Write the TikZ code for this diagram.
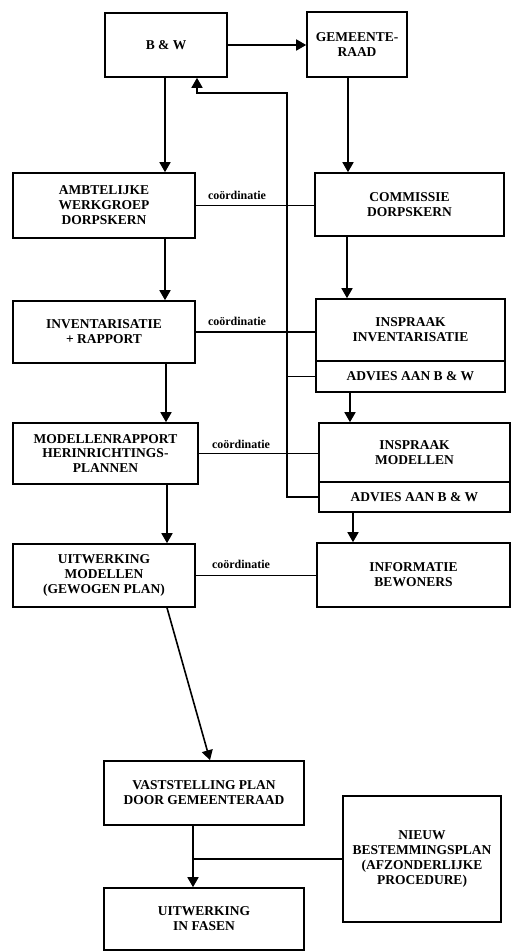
\documentclass[tikz,border=0pt]{standalone}
\usepackage{fontspec}
\setmainfont{Liberation Serif}
\usetikzlibrary{arrows.meta,calc}
\begin{document}
\begin{tikzpicture}[x=1pt,y=-1pt,
  box/.style={draw,line width=1.6pt,inner sep=0pt,align=center,font=\fontsize{13.5}{14.9}\selectfont\bfseries},
  arr/.style={line width=1.6pt,-{Triangle[length=10pt,width=11pt]}},
  ln/.style={line width=1.6pt},
  coord/.style={font=\fontsize{12}{14}\selectfont\bfseries,inner sep=0pt,anchor=south}]
\useasboundingbox[fill=white] (0,0) rectangle (511,952);

% boxes
\node[box,minimum width=122pt,minimum height=64pt] (bw) at (166,45) {B \& W};
\node[box,minimum width=100pt,minimum height=65pt] (gr) at (357,44.5) {GEMEENTE-\\RAAD};
\node[box,minimum width=182pt,minimum height=65pt] (amb) at (104,205.5) {AMBTELIJKE\\WERKGROEP\\DORPSKERN};
\node[box,minimum width=189pt,minimum height=63pt] (com) at (409.5,204.5) {COMMISSIE\\DORPSKERN};
\node[box,minimum width=182pt,minimum height=62pt] (inv) at (104,332) {INVENTARISATIE\\+ RAPPORT};
\node[box,minimum width=189pt,minimum height=62pt] (insinv) at (410.5,330) {INSPRAAK\\INVENTARISATIE};
\node[box,minimum width=189pt,minimum height=31pt] (adv1) at (410.5,376.5) {ADVIES AAN B \& W};
\node[box,minimum width=185pt,minimum height=61pt] (mod) at (105.5,453.5) {MODELLENRAPPORT\\HERINRICHTINGS-\\PLANNEN};
\node[box,minimum width=191pt,minimum height=59pt] (insmod) at (414.5,452.5) {INSPRAAK\\MODELLEN};
\node[box,minimum width=191pt,minimum height=30pt] (adv2) at (414.5,497) {ADVIES AAN B \& W};
\node[box,minimum width=182pt,minimum height=63pt] (uit) at (104,575.5) {UITWERKING\\MODELLEN\\(GEWOGEN PLAN)};
\node[box,minimum width=193pt,minimum height=64pt] (info) at (413.5,575) {INFORMATIE\\BEWONERS};
\node[box,minimum width=200pt,minimum height=64pt] (vast) at (204,793) {VASTSTELLING PLAN\\DOOR GEMEENTERAAD};
\node[box,minimum width=158pt,minimum height=126pt] (nieuw) at (422,859) {NIEUW\\BESTEMMINGSPLAN\\(AFZONDERLIJKE\\PROCEDURE)};
\node[box,minimum width=200pt,minimum height=62pt] (fasen) at (204,919) {UITWERKING\\IN FASEN};

% main flow arrows
\draw[arr] (bw.east) -- (bw.east -| gr.west);
\draw[arr] ([xshift=-1pt]bw.south) -- ([xshift=-1pt]bw.south |- amb.north);
\draw[arr] ([xshift=-9pt]gr.south) -- ([xshift=-9pt]gr.south |- com.north);
\draw[arr] ([xshift=61pt]amb.south) -- ([xshift=61pt]amb.south |- inv.north);
\draw[arr] ([xshift=-62.5pt]com.south) -- ([xshift=-62.5pt]com.south |- insinv.north);
\draw[arr] ([xshift=62pt]inv.south) -- ([xshift=62pt]inv.south |- mod.north);
\draw[arr] ([xshift=-60.5pt]adv1.south) -- ([xshift=-60.5pt]adv1.south |- insmod.north);
\draw[arr] ([xshift=61.5pt]mod.south) -- ([xshift=61.5pt]mod.south |- uit.north);
\draw[arr] ([xshift=-61.5pt]adv2.south) -- ([xshift=-61.5pt]adv2.south |- info.north);
\draw[arr] ([xshift=63pt]uit.south) -- ([xshift=6pt]vast.north);
\coordinate (jv) at ([xshift=-11pt]vast.south);
\draw[arr] (jv) -- (jv |- fasen.north);
\draw[ln] (nieuw.west) -- (nieuw.west -| jv);

% feedback line to B & W
\coordinate (fb1) at (287,497);
\coordinate (fb2) at (287,93);
\draw[arr] (adv2.west) -- (fb1) -- (fb2) -| ([xshift=31pt]bw.south);
\draw[ln] (adv1.west -| fb1) -- (adv1.west);

% coordination lines
\draw[ln] (amb.east) -- (amb.east -| com.west);
\draw[ln] (inv.east) -- (inv.east -| insinv.west);
\draw[ln] (mod.east) -- (mod.east -| insmod.west);
\draw[ln] (uit.east) -- (uit.east -| info.west);
\node[coord] (c1) at (237,200) {coördinatie};
\node[coord] (c2) at (237,326) {coördinatie};
\node[coord] (c3) at (241,449) {coördinatie};
\node[coord] (c4) at (241,569) {coördinatie};
\end{tikzpicture}
\end{document}
